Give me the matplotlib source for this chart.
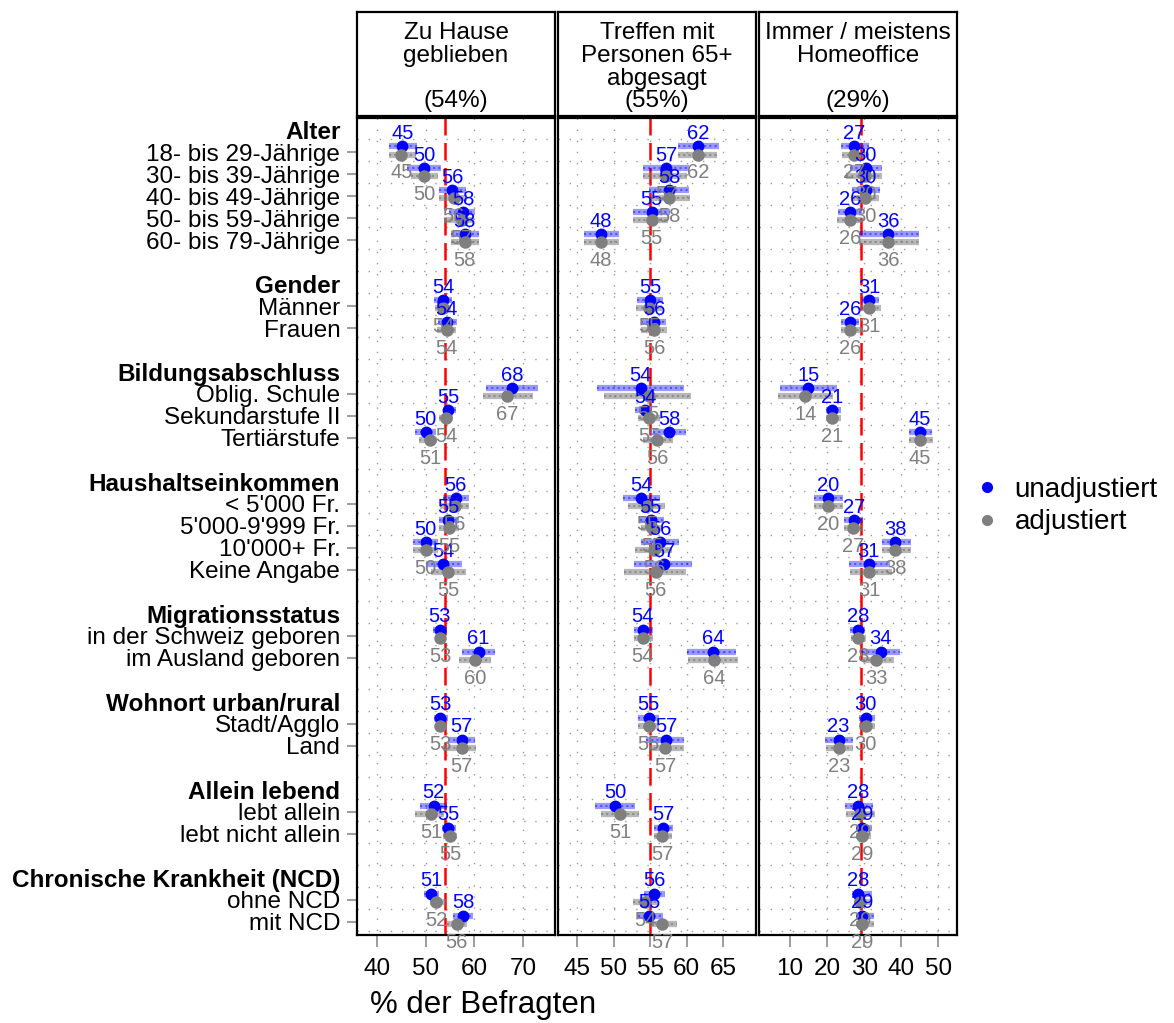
import matplotlib.pyplot as plt
from matplotlib.lines import Line2D
import numpy as np

plt.rcParams['font.family'] = ['Liberation Sans', 'DejaVu Sans']

# Gruppen und Kategorien (Reihenfolge von oben nach unten)
groups = ["Alter", "Gender", "Bildungsabschluss", "Haushaltseinkommen",
          "Migrationsstatus", "Wohnort urban/rural", "Allein lebend",
          "Chronische Krankheit (NCD)"]
items = [
    ["18- bis 29-Jährige", "30- bis 39-Jährige", "40- bis 49-Jährige",
     "50- bis 59-Jährige", "60- bis 79-Jährige"],
    ["Männer", "Frauen"],
    ["Oblig. Schule", "Sekundarstufe II", "Tertiärstufe"],
    ["< 5'000 Fr.", "5'000-9'999 Fr.", "10'000+ Fr.", "Keine Angabe"],
    ["in der Schweiz geboren", "im Ausland geboren"],
    ["Stadt/Agglo", "Land"],
    ["lebt allein", "lebt nicht allein"],
    ["ohne NCD", "mit NCD"],
]

titles = ["Zu Hause\ngeblieben\n", "Treffen mit\nPersonen 65+\nabgesagt",
          "Immer / meistens\nHomeoffice\n"]
overall = [54, 55, 29]

# Zu Hause geblieben
home_est = [45.2, 49.7, 55.5, 57.7, 58.0, 53.6, 54.3, 67.8, 54.6, 50.0, 56.2,
            54.6, 50.0, 53.6, 52.9, 60.9, 53.0, 57.4, 51.7, 54.7, 51.1, 57.7]
home_lo = [42.5, 46.2, 52.8, 54.8, 55.3, 51.7, 52.6, 62.5, 53.8, 47.8, 53.5,
           52.8, 47.5, 50.0, 51.6, 57.4, 51.7, 54.6, 48.8, 53.3, 49.7, 55.7]
home_hi = [48.2, 53.1, 58.4, 60.1, 60.9, 55.5, 56.4, 73.1, 56.2, 52.1, 59.0,
           56.9, 52.6, 57.4, 54.4, 64.2, 54.6, 60.1, 54.4, 56.2, 52.7, 59.7]
home_adj = [45.0, 49.7, 55.8, 57.4, 58.0, 53.6, 54.3, 66.8, 54.2, 50.9, 56.0,
            54.8, 50.0, 54.6, 53.0, 60.1, 53.0, 57.4, 51.1, 55.1, 52.2, 56.4]
home_adj_lo = [42.5, 47.0, 52.8, 53.8, 55.3, 52.0, 52.3, 61.8, 52.8, 48.6, 52.9,
               52.8, 47.5, 51.2, 52.2, 56.9, 52.2, 53.6, 47.9, 53.6, 50.9, 54.5]
home_adj_hi = [48.0, 52.5, 58.6, 59.9, 60.9, 55.3, 56.2, 72.1, 55.6, 52.4, 59.0,
               56.9, 52.6, 58.4, 54.2, 63.5, 54.2, 60.3, 53.8, 56.5, 54.1, 58.5]

# Treffen mit Personen 65+ abgesagt
meet_est = [61.6, 57.2, 57.6, 55.2, 48.3, 55.0, 55.6, 53.7, 54.3, 57.6, 53.8,
            55.1, 56.4, 56.9, 54.0, 63.6, 54.8, 57.2, 50.2, 56.8, 55.6, 54.9]
meet_lo = [58.8, 54.0, 54.9, 52.7, 45.9, 53.2, 53.7, 47.7, 52.9, 55.4, 51.3,
           53.6, 53.7, 52.8, 52.8, 60.1, 53.4, 54.4, 47.4, 55.5, 54.2, 53.4]
meet_hi = [64.5, 60.3, 60.3, 57.7, 50.8, 56.8, 57.2, 59.7, 54.8, 59.9, 56.4,
           56.9, 59.0, 60.8, 55.4, 66.8, 56.2, 59.7, 52.9, 58.1, 57.0, 56.8]
meet_adj = [61.6, 57.2, 57.6, 55.2, 48.3, 54.9, 55.6, 54.8, 54.9, 56.0, 54.6,
            55.3, 55.6, 55.8, 54.0, 63.8, 54.8, 57.1, 50.9, 56.7, 54.3, 56.7]
meet_adj_lo = [58.8, 54.0, 55.1, 52.7, 45.9, 53.1, 53.7, 48.7, 53.4, 54.0, 52.0,
               53.7, 53.0, 51.4, 52.8, 60.2, 53.4, 54.8, 48.3, 55.5, 52.7, 55.0]
meet_adj_hi = [64.2, 60.1, 60.4, 57.4, 50.8, 56.7, 57.3, 60.6, 56.4, 58.2, 57.0,
               56.8, 58.0, 59.9, 55.4, 67.0, 56.2, 59.6, 53.5, 58.0, 56.0, 58.7]

# Immer / meistens Homeoffice
office_est = [27.2, 30.4, 30.4, 26.2, 36.4, 31.4, 26.2, 14.9, 21.3, 45.0, 20.3,
              27.2, 38.3, 31.2, 28.4, 34.4, 30.4, 23.1, 28.4, 29.4, 28.4, 29.4]
office_lo = [23.7, 26.2, 26.7, 23.0, 28.7, 29.4, 23.7, 7.3, 19.7, 42.0, 16.6,
             24.6, 34.8, 25.8, 26.1, 29.4, 28.7, 19.5, 24.9, 27.9, 26.6, 27.9]
office_hi = [31.2, 34.8, 34.3, 29.4, 44.7, 34.1, 28.7, 22.8, 23.7, 48.3, 24.2,
             29.8, 42.6, 37.0, 30.3, 39.6, 33.0, 26.9, 32.5, 32.1, 32.1, 32.6]
office_adj = [27.3, 30.3, 30.3, 26.2, 36.4, 31.4, 26.2, 14.1, 21.3, 45.0, 20.3,
              27.1, 38.3, 31.4, 28.4, 33.3, 30.4, 23.3, 28.8, 29.4, 28.8, 29.4]
office_adj_lo = [24.0, 25.1, 27.0, 22.8, 28.7, 29.1, 23.7, 6.7, 19.7, 42.2, 16.6,
                 24.6, 34.8, 26.1, 26.4, 29.8, 28.7, 19.6, 25.1, 27.9, 27.2, 27.9]
office_adj_hi = [31.4, 34.8, 33.9, 29.4, 44.7, 34.6, 29.4, 21.7, 23.7, 48.5, 24.2,
                 29.6, 42.6, 37.6, 30.6, 38.1, 32.8, 26.9, 32.8, 31.7, 32.1, 32.6]

panels = [
    (home_est, home_lo, home_hi, home_adj, home_adj_lo, home_adj_hi),
    (meet_est, meet_lo, meet_hi, meet_adj, meet_adj_lo, meet_adj_hi),
    (office_est, office_lo, office_hi, office_adj, office_adj_lo, office_adj_hi),
]
xticks = [[40, 50, 60, 70], [45, 50, 55, 60, 65], [10, 20, 30, 40, 50]]
xlims = [(35.9, 76.6), (42.4, 69.5), (1.65, 55.0)]

# Zeilenpositionen: Kopfzeile, Kategorien, Leerzeile
row_pos, row_lab, row_head = [], [], []
item_y = []
r = 0
for g, its in zip(groups, items):
    row_pos.append(r); row_lab.append(g); row_head.append(True)
    r += 1
    for it in its:
        row_pos.append(r); row_lab.append(it); row_head.append(False)
        item_y.append(r)
        r += 1
    r += 1
item_y = np.array(item_y, dtype=float)

W, H = 1174, 1023
fig = plt.figure(figsize=(W / 100, H / 100), dpi=100)
lefts = [357, 558, 759]
pw = 198

blue = '#0000FF'
grey = '#7F7F7F'

for i in range(3):
    est, lo, hi, adj, alo, ahi = panels[i]
    ax = fig.add_axes([lefts[i] / W, 1 - 935 / H, pw / W, 817 / H])
    ax.set_xlim(*xlims[i])
    ax.set_ylim(36.6, -0.55)

    # gepunktetes Gitter
    gy = np.arange(0, 37) + 0.41
    ax.hlines(gy, xlims[i][0], xlims[i][1], colors='#9a9a9a',
              linestyles=(0, (1, 7)), lw=1, zorder=0)
    ax.vlines(xticks[i], -0.55, 36.6, colors='#9a9a9a',
              linestyles=(0, (1, 7)), lw=1, zorder=0)

    ax.axvline(overall[i], color='red', lw=1.8, dashes=(7, 3), zorder=1)

    yb = item_y - 0.26
    yg = item_y + 0.11
    # Konfidenzintervalle
    ax.hlines(yb, lo, hi, colors=blue, alpha=0.4, lw=4.5, zorder=2)
    ax.hlines(yb, lo, hi, colors=blue, alpha=0.45, lw=1.5,
              linestyles=(0, (1, 1.5)), zorder=2)
    ax.hlines(yg, alo, ahi, colors=grey, alpha=0.55, lw=4.5, zorder=2)
    ax.hlines(yg, alo, ahi, colors='#555555', alpha=0.45, lw=1.5,
              linestyles=(0, (1, 1.5)), zorder=2)
    ax.plot(est, yb, 'o', color=blue, ms=7.5, zorder=3)
    ax.plot(adj, yg, 'o', color=grey, ms=8, zorder=3)

    for x_, y_ in zip(est, item_y):
        ax.text(x_, y_ - 0.86, f"{x_:.0f}", ha='center', va='center',
                color=blue, fontsize=14.5, zorder=4)
    for x_, y_ in zip(adj, item_y):
        ax.text(x_, y_ + 0.94, f"{x_:.0f}", ha='center', va='center',
                color=grey, fontsize=14.5, zorder=4)

    ax.set_xticks(xticks[i])
    ax.tick_params(axis='x', length=8.5, width=1.2, color='#8c8c8c', pad=8,
                   labelsize=17.5)
    for s in ax.spines.values():
        s.set_linewidth(1.6)
        s.set_color('black')

    if i == 0:
        ax.set_yticks(row_pos)
        ax.set_yticklabels(row_lab)
        ax.tick_params(axis='y', length=7, width=1.2, color='#8c8c8c', pad=5,
                       labelsize=17.5)
        for t, hd in zip(ax.yaxis.get_major_ticks(), row_head):
            if hd:
                t.tick1line.set_visible(False)
                t.label1.set_fontweight('bold')
    else:
        ax.set_yticks([])

    # Kopfbox mit Titel
    hx = fig.add_axes([lefts[i] / W, 1 - 116 / H, pw / W, 104 / H])
    hx.set_xticks([])
    hx.set_yticks([])
    for s in hx.spines.values():
        s.set_linewidth(1.6)
    hx.text(0.5, 0.47, titles[i] + f"\n({overall[i]}%)", ha='center',
            va='center', fontsize=17.5, linespacing=1.05, transform=hx.transAxes)

fig.text(370 / W, 1 - 1005 / H, '% der Befragten', fontsize=22.5, va='center')

handles = [Line2D([], [], marker='o', color=blue, ls='', ms=7),
           Line2D([], [], marker='o', color=grey, ls='', ms=7)]
fig.legend(handles, ['unadjustiert', 'adjustiert'], loc='center left',
           bbox_to_anchor=(945 / W, 1 - 506 / H), frameon=False, fontsize=20,
           handletextpad=0.4, labelspacing=0.25, handlelength=1.2)

fig.savefig('out.png', dpi=100)
